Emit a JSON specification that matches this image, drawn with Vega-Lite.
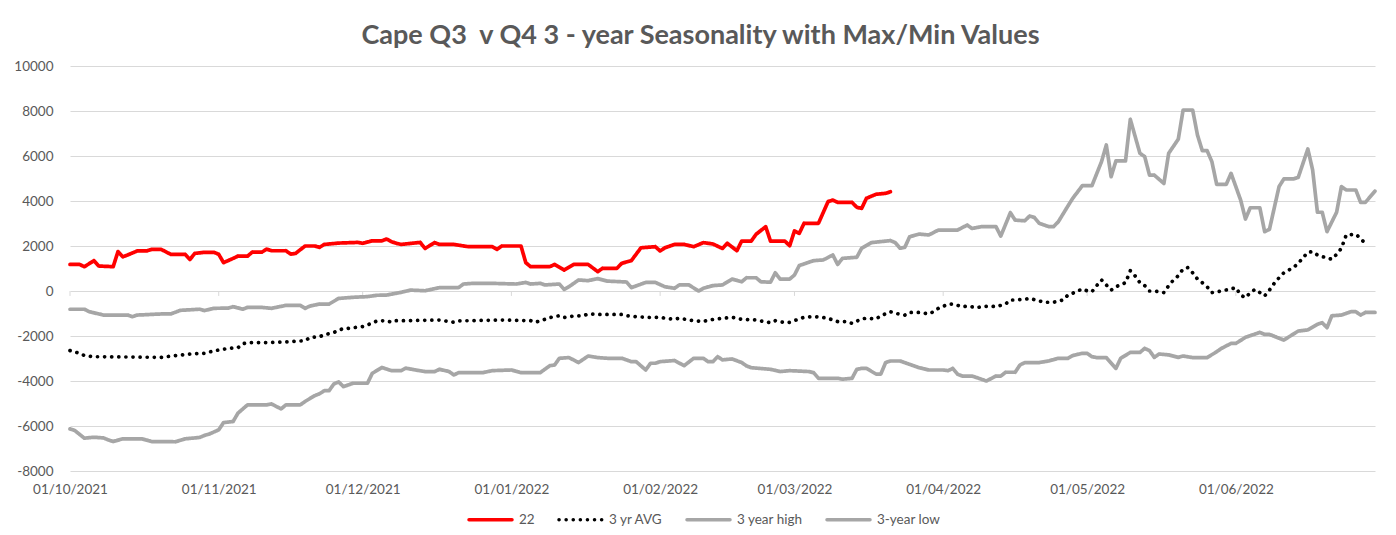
{
  "$schema": "https://vega.github.io/schema/vega-lite/v6.json",
  "width": 1305,
  "height": 405,
  "autosize": {"type": "none"},
  "padding": {"left": 70, "top": 66, "right": 21, "bottom": 64},
  "background": "white",
  "title": {"text": "Cape Q3\u00a0 v Q4 3 - year Seasonality with Max/Min Values", "font": "Lato", "fontSize": 27, "fontWeight": "bold", "color": "#595959", "anchor": "middle", "offset": 9, "dx": -22},
  "config": {"view": {"stroke": null}, "font": "Lato"},
  "datasets": {
    "months": [
      {"d": "2021-10-01"}, {"d": "2021-11-01"}, {"d": "2021-12-01"}, {"d": "2022-01-01"}, {"d": "2022-02-01"},
      {"d": "2022-03-01"}, {"d": "2022-04-01"}, {"d": "2022-05-01"}, {"d": "2022-06-01"}
    ],
    "series": [
      {"s":"22","d":"2021-10-01","v":1180},{"s":"22","d":"2021-10-03","v":1180},{"s":"22","d":"2021-10-04","v":1080},{"s":"22","d":"2021-10-06","v":1350},{"s":"22","d":"2021-10-07","v":1110},{"s":"22","d":"2021-10-10","v":1080},{"s":"22","d":"2021-10-11","v":1750},{"s":"22","d":"2021-10-12","v":1520},{"s":"22","d":"2021-10-13","v":1600},{"s":"22","d":"2021-10-15","v":1780},{"s":"22","d":"2021-10-17","v":1780},{"s":"22","d":"2021-10-18","v":1850},{"s":"22","d":"2021-10-20","v":1850},{"s":"22","d":"2021-10-22","v":1630},{"s":"22","d":"2021-10-25","v":1630},{"s":"22","d":"2021-10-26","v":1400},{"s":"22","d":"2021-10-27","v":1670},{"s":"22","d":"2021-10-29","v":1720},{"s":"22","d":"2021-10-31","v":1720},
      {"s":"22","d":"2021-11-01","v":1630},{"s":"22","d":"2021-11-02","v":1260},{"s":"22","d":"2021-11-04","v":1450},{"s":"22","d":"2021-11-05","v":1550},{"s":"22","d":"2021-11-07","v":1550},{"s":"22","d":"2021-11-08","v":1730},{"s":"22","d":"2021-11-10","v":1730},{"s":"22","d":"2021-11-11","v":1860},{"s":"22","d":"2021-11-12","v":1790},{"s":"22","d":"2021-11-15","v":1790},{"s":"22","d":"2021-11-16","v":1640},{"s":"22","d":"2021-11-17","v":1670},{"s":"22","d":"2021-11-19","v":2000},{"s":"22","d":"2021-11-21","v":2000},{"s":"22","d":"2021-11-22","v":1940},{"s":"22","d":"2021-11-23","v":2070},{"s":"22","d":"2021-11-26","v":2130},{"s":"22","d":"2021-11-30","v":2160},
      {"s":"22","d":"2021-12-01","v":2120},{"s":"22","d":"2021-12-03","v":2230},{"s":"22","d":"2021-12-05","v":2230},{"s":"22","d":"2021-12-06","v":2310},{"s":"22","d":"2021-12-07","v":2190},{"s":"22","d":"2021-12-08","v":2120},{"s":"22","d":"2021-12-09","v":2070},{"s":"22","d":"2021-12-13","v":2160},{"s":"22","d":"2021-12-14","v":1890},{"s":"22","d":"2021-12-16","v":2150},{"s":"22","d":"2021-12-17","v":2070},{"s":"22","d":"2021-12-20","v":2070},{"s":"22","d":"2021-12-23","v":1970},{"s":"22","d":"2021-12-28","v":1970},{"s":"22","d":"2021-12-29","v":1850},{"s":"22","d":"2021-12-30","v":2000},
      {"s":"22","d":"2022-01-03","v":2000},{"s":"22","d":"2022-01-04","v":1260},{"s":"22","d":"2022-01-05","v":1080},{"s":"22","d":"2022-01-09","v":1080},{"s":"22","d":"2022-01-10","v":1180},{"s":"22","d":"2022-01-12","v":930},{"s":"22","d":"2022-01-14","v":1180},{"s":"22","d":"2022-01-17","v":1180},{"s":"22","d":"2022-01-19","v":860},{"s":"22","d":"2022-01-20","v":1010},{"s":"22","d":"2022-01-23","v":1010},{"s":"22","d":"2022-01-24","v":1230},{"s":"22","d":"2022-01-26","v":1350},{"s":"22","d":"2022-01-28","v":1920},{"s":"22","d":"2022-01-31","v":1970},
      {"s":"22","d":"2022-02-01","v":1780},{"s":"22","d":"2022-02-02","v":1920},{"s":"22","d":"2022-02-04","v":2070},{"s":"22","d":"2022-02-06","v":2070},{"s":"22","d":"2022-02-08","v":1970},{"s":"22","d":"2022-02-10","v":2150},{"s":"22","d":"2022-02-12","v":2090},{"s":"22","d":"2022-02-14","v":1890},{"s":"22","d":"2022-02-15","v":2120},{"s":"22","d":"2022-02-17","v":1790},{"s":"22","d":"2022-02-18","v":2220},{"s":"22","d":"2022-02-20","v":2220},{"s":"22","d":"2022-02-21","v":2520},{"s":"22","d":"2022-02-23","v":2860},{"s":"22","d":"2022-02-24","v":2220},{"s":"22","d":"2022-02-27","v":2220},{"s":"22","d":"2022-02-28","v":2010},
      {"s":"22","d":"2022-03-01","v":2670},{"s":"22","d":"2022-03-02","v":2560},{"s":"22","d":"2022-03-03","v":3010},{"s":"22","d":"2022-03-06","v":3010},{"s":"22","d":"2022-03-08","v":3970},{"s":"22","d":"2022-03-09","v":4040},{"s":"22","d":"2022-03-10","v":3940},{"s":"22","d":"2022-03-13","v":3940},{"s":"22","d":"2022-03-14","v":3720},{"s":"22","d":"2022-03-15","v":3670},{"s":"22","d":"2022-03-16","v":4120},{"s":"22","d":"2022-03-18","v":4300},{"s":"22","d":"2022-03-20","v":4340},{"s":"22","d":"2022-03-21","v":4410},

      {"s":"3 yr AVG","d":"2021-10-01","v":-2650},{"s":"3 yr AVG","d":"2021-10-03","v":-2770},{"s":"3 yr AVG","d":"2021-10-04","v":-2870},{"s":"3 yr AVG","d":"2021-10-06","v":-2920},{"s":"3 yr AVG","d":"2021-10-20","v":-2950},{"s":"3 yr AVG","d":"2021-10-23","v":-2870},{"s":"3 yr AVG","d":"2021-10-26","v":-2800},{"s":"3 yr AVG","d":"2021-10-29","v":-2770},{"s":"3 yr AVG","d":"2021-10-31","v":-2660},
      {"s":"3 yr AVG","d":"2021-11-03","v":-2550},{"s":"3 yr AVG","d":"2021-11-05","v":-2520},{"s":"3 yr AVG","d":"2021-11-06","v":-2350},{"s":"3 yr AVG","d":"2021-11-07","v":-2290},{"s":"3 yr AVG","d":"2021-11-12","v":-2290},{"s":"3 yr AVG","d":"2021-11-16","v":-2250},{"s":"3 yr AVG","d":"2021-11-19","v":-2210},{"s":"3 yr AVG","d":"2021-11-20","v":-2070},{"s":"3 yr AVG","d":"2021-11-22","v":-2030},{"s":"3 yr AVG","d":"2021-11-23","v":-1950},{"s":"3 yr AVG","d":"2021-11-25","v":-1840},{"s":"3 yr AVG","d":"2021-11-27","v":-1660},{"s":"3 yr AVG","d":"2021-11-28","v":-1660},
      {"s":"3 yr AVG","d":"2021-12-01","v":-1580},{"s":"3 yr AVG","d":"2021-12-02","v":-1510},{"s":"3 yr AVG","d":"2021-12-04","v":-1330},{"s":"3 yr AVG","d":"2021-12-06","v":-1320},{"s":"3 yr AVG","d":"2021-12-07","v":-1390},{"s":"3 yr AVG","d":"2021-12-08","v":-1320},{"s":"3 yr AVG","d":"2021-12-10","v":-1320},{"s":"3 yr AVG","d":"2021-12-17","v":-1290},{"s":"3 yr AVG","d":"2021-12-20","v":-1390},{"s":"3 yr AVG","d":"2021-12-21","v":-1330},{"s":"3 yr AVG","d":"2021-12-30","v":-1290},
      {"s":"3 yr AVG","d":"2022-01-05","v":-1320},{"s":"3 yr AVG","d":"2022-01-06","v":-1390},{"s":"3 yr AVG","d":"2022-01-08","v":-1260},{"s":"3 yr AVG","d":"2022-01-09","v":-1180},{"s":"3 yr AVG","d":"2022-01-11","v":-1100},{"s":"3 yr AVG","d":"2022-01-12","v":-1180},{"s":"3 yr AVG","d":"2022-01-14","v":-1110},{"s":"3 yr AVG","d":"2022-01-16","v":-1100},{"s":"3 yr AVG","d":"2022-01-17","v":-1020},{"s":"3 yr AVG","d":"2022-01-19","v":-1040},{"s":"3 yr AVG","d":"2022-01-24","v":-1040},{"s":"3 yr AVG","d":"2022-01-25","v":-1100},{"s":"3 yr AVG","d":"2022-01-27","v":-1140},{"s":"3 yr AVG","d":"2022-01-30","v":-1180},
      {"s":"3 yr AVG","d":"2022-02-01","v":-1170},{"s":"3 yr AVG","d":"2022-02-02","v":-1210},{"s":"3 yr AVG","d":"2022-02-04","v":-1260},{"s":"3 yr AVG","d":"2022-02-05","v":-1210},{"s":"3 yr AVG","d":"2022-02-07","v":-1290},{"s":"3 yr AVG","d":"2022-02-10","v":-1360},{"s":"3 yr AVG","d":"2022-02-11","v":-1290},{"s":"3 yr AVG","d":"2022-02-13","v":-1240},{"s":"3 yr AVG","d":"2022-02-16","v":-1170},{"s":"3 yr AVG","d":"2022-02-18","v":-1260},{"s":"3 yr AVG","d":"2022-02-21","v":-1290},{"s":"3 yr AVG","d":"2022-02-24","v":-1410},{"s":"3 yr AVG","d":"2022-02-25","v":-1320},{"s":"3 yr AVG","d":"2022-02-27","v":-1410},{"s":"3 yr AVG","d":"2022-02-28","v":-1390},
      {"s":"3 yr AVG","d":"2022-03-02","v":-1240},{"s":"3 yr AVG","d":"2022-03-03","v":-1170},{"s":"3 yr AVG","d":"2022-03-05","v":-1140},{"s":"3 yr AVG","d":"2022-03-07","v":-1180},{"s":"3 yr AVG","d":"2022-03-08","v":-1210},{"s":"3 yr AVG","d":"2022-03-09","v":-1290},{"s":"3 yr AVG","d":"2022-03-10","v":-1360},{"s":"3 yr AVG","d":"2022-03-12","v":-1360},{"s":"3 yr AVG","d":"2022-03-13","v":-1440},{"s":"3 yr AVG","d":"2022-03-15","v":-1240},{"s":"3 yr AVG","d":"2022-03-16","v":-1210},{"s":"3 yr AVG","d":"2022-03-18","v":-1240},{"s":"3 yr AVG","d":"2022-03-19","v":-1100},{"s":"3 yr AVG","d":"2022-03-21","v":-920},{"s":"3 yr AVG","d":"2022-03-22","v":-990},{"s":"3 yr AVG","d":"2022-03-24","v":-1070},{"s":"3 yr AVG","d":"2022-03-25","v":-950},{"s":"3 yr AVG","d":"2022-03-27","v":-950},{"s":"3 yr AVG","d":"2022-03-29","v":-1020},{"s":"3 yr AVG","d":"2022-03-30","v":-920},{"s":"3 yr AVG","d":"2022-03-31","v":-770},
      {"s":"3 yr AVG","d":"2022-04-02","v":-590},{"s":"3 yr AVG","d":"2022-04-03","v":-580},{"s":"3 yr AVG","d":"2022-04-05","v":-700},{"s":"3 yr AVG","d":"2022-04-06","v":-670},{"s":"3 yr AVG","d":"2022-04-08","v":-740},{"s":"3 yr AVG","d":"2022-04-09","v":-700},{"s":"3 yr AVG","d":"2022-04-11","v":-670},{"s":"3 yr AVG","d":"2022-04-12","v":-700},{"s":"3 yr AVG","d":"2022-04-14","v":-580},{"s":"3 yr AVG","d":"2022-04-15","v":-400},{"s":"3 yr AVG","d":"2022-04-16","v":-400},{"s":"3 yr AVG","d":"2022-04-18","v":-370},{"s":"3 yr AVG","d":"2022-04-19","v":-330},{"s":"3 yr AVG","d":"2022-04-21","v":-440},{"s":"3 yr AVG","d":"2022-04-22","v":-500},{"s":"3 yr AVG","d":"2022-04-24","v":-500},{"s":"3 yr AVG","d":"2022-04-26","v":-400},{"s":"3 yr AVG","d":"2022-04-27","v":-180},{"s":"3 yr AVG","d":"2022-04-28","v":-100},{"s":"3 yr AVG","d":"2022-04-30","v":90},
      {"s":"3 yr AVG","d":"2022-05-01","v":10},{"s":"3 yr AVG","d":"2022-05-02","v":-30},{"s":"3 yr AVG","d":"2022-05-03","v":240},{"s":"3 yr AVG","d":"2022-05-04","v":490},{"s":"3 yr AVG","d":"2022-05-05","v":270},{"s":"3 yr AVG","d":"2022-05-06","v":40},{"s":"3 yr AVG","d":"2022-05-07","v":190},{"s":"3 yr AVG","d":"2022-05-09","v":370},{"s":"3 yr AVG","d":"2022-05-10","v":900},{"s":"3 yr AVG","d":"2022-05-11","v":670},{"s":"3 yr AVG","d":"2022-05-12","v":370},{"s":"3 yr AVG","d":"2022-05-13","v":240},{"s":"3 yr AVG","d":"2022-05-14","v":0},{"s":"3 yr AVG","d":"2022-05-15","v":0},{"s":"3 yr AVG","d":"2022-05-17","v":-70},{"s":"3 yr AVG","d":"2022-05-18","v":240},{"s":"3 yr AVG","d":"2022-05-19","v":490},{"s":"3 yr AVG","d":"2022-05-20","v":680},{"s":"3 yr AVG","d":"2022-05-21","v":980},{"s":"3 yr AVG","d":"2022-05-22","v":1040},{"s":"3 yr AVG","d":"2022-05-23","v":810},{"s":"3 yr AVG","d":"2022-05-24","v":530},{"s":"3 yr AVG","d":"2022-05-25","v":370},{"s":"3 yr AVG","d":"2022-05-26","v":190},{"s":"3 yr AVG","d":"2022-05-27","v":-70},{"s":"3 yr AVG","d":"2022-05-29","v":0},{"s":"3 yr AVG","d":"2022-05-31","v":90},
      {"s":"3 yr AVG","d":"2022-06-01","v":150},{"s":"3 yr AVG","d":"2022-06-02","v":-180},{"s":"3 yr AVG","d":"2022-06-03","v":-300},{"s":"3 yr AVG","d":"2022-06-04","v":-70},{"s":"3 yr AVG","d":"2022-06-05","v":70},{"s":"3 yr AVG","d":"2022-06-06","v":-70},{"s":"3 yr AVG","d":"2022-06-07","v":-220},{"s":"3 yr AVG","d":"2022-06-08","v":40},{"s":"3 yr AVG","d":"2022-06-09","v":340},{"s":"3 yr AVG","d":"2022-06-10","v":590},{"s":"3 yr AVG","d":"2022-06-11","v":810},{"s":"3 yr AVG","d":"2022-06-13","v":1040},{"s":"3 yr AVG","d":"2022-06-14","v":1230},{"s":"3 yr AVG","d":"2022-06-15","v":1480},{"s":"3 yr AVG","d":"2022-06-16","v":1720},{"s":"3 yr AVG","d":"2022-06-17","v":1750},{"s":"3 yr AVG","d":"2022-06-18","v":1600},{"s":"3 yr AVG","d":"2022-06-19","v":1530},{"s":"3 yr AVG","d":"2022-06-21","v":1410},{"s":"3 yr AVG","d":"2022-06-22","v":1630},{"s":"3 yr AVG","d":"2022-06-23","v":1900},{"s":"3 yr AVG","d":"2022-06-24","v":2490},{"s":"3 yr AVG","d":"2022-06-26","v":2520},{"s":"3 yr AVG","d":"2022-06-27","v":2340},{"s":"3 yr AVG","d":"2022-06-28","v":2090},

      {"s":"3 year high","d":"2021-10-01","v":-810},{"s":"3 year high","d":"2021-10-04","v":-810},{"s":"3 year high","d":"2021-10-05","v":-920},{"s":"3 year high","d":"2021-10-08","v":-1070},{"s":"3 year high","d":"2021-10-13","v":-1070},{"s":"3 year high","d":"2021-10-14","v":-1140},{"s":"3 year high","d":"2021-10-15","v":-1070},{"s":"3 year high","d":"2021-10-20","v":-1020},{"s":"3 year high","d":"2021-10-22","v":-1020},{"s":"3 year high","d":"2021-10-24","v":-860},{"s":"3 year high","d":"2021-10-28","v":-810},{"s":"3 year high","d":"2021-10-29","v":-870},{"s":"3 year high","d":"2021-10-31","v":-770},
      {"s":"3 year high","d":"2021-11-03","v":-760},{"s":"3 year high","d":"2021-11-04","v":-700},{"s":"3 year high","d":"2021-11-06","v":-810},{"s":"3 year high","d":"2021-11-07","v":-730},{"s":"3 year high","d":"2021-11-10","v":-730},{"s":"3 year high","d":"2021-11-12","v":-770},{"s":"3 year high","d":"2021-11-15","v":-640},{"s":"3 year high","d":"2021-11-18","v":-640},{"s":"3 year high","d":"2021-11-19","v":-770},{"s":"3 year high","d":"2021-11-20","v":-670},{"s":"3 year high","d":"2021-11-22","v":-580},{"s":"3 year high","d":"2021-11-24","v":-580},{"s":"3 year high","d":"2021-11-26","v":-330},{"s":"3 year high","d":"2021-11-29","v":-280},
      {"s":"3 year high","d":"2021-12-02","v":-250},{"s":"3 year high","d":"2021-12-04","v":-190},{"s":"3 year high","d":"2021-12-06","v":-180},{"s":"3 year high","d":"2021-12-09","v":-60},{"s":"3 year high","d":"2021-12-11","v":40},{"s":"3 year high","d":"2021-12-14","v":10},{"s":"3 year high","d":"2021-12-17","v":150},{"s":"3 year high","d":"2021-12-21","v":150},{"s":"3 year high","d":"2021-12-22","v":310},{"s":"3 year high","d":"2021-12-24","v":340},{"s":"3 year high","d":"2021-12-28","v":340},
      {"s":"3 year high","d":"2022-01-02","v":310},{"s":"3 year high","d":"2022-01-04","v":380},{"s":"3 year high","d":"2022-01-05","v":310},{"s":"3 year high","d":"2022-01-07","v":340},{"s":"3 year high","d":"2022-01-08","v":270},{"s":"3 year high","d":"2022-01-11","v":310},{"s":"3 year high","d":"2022-01-12","v":70},{"s":"3 year high","d":"2022-01-13","v":190},{"s":"3 year high","d":"2022-01-15","v":490},{"s":"3 year high","d":"2022-01-17","v":460},{"s":"3 year high","d":"2022-01-19","v":550},{"s":"3 year high","d":"2022-01-21","v":440},{"s":"3 year high","d":"2022-01-25","v":400},{"s":"3 year high","d":"2022-01-26","v":150},{"s":"3 year high","d":"2022-01-29","v":380},{"s":"3 year high","d":"2022-01-31","v":380},
      {"s":"3 year high","d":"2022-02-02","v":190},{"s":"3 year high","d":"2022-02-04","v":120},{"s":"3 year high","d":"2022-02-05","v":270},{"s":"3 year high","d":"2022-02-07","v":270},{"s":"3 year high","d":"2022-02-09","v":0},{"s":"3 year high","d":"2022-02-10","v":120},{"s":"3 year high","d":"2022-02-12","v":240},{"s":"3 year high","d":"2022-02-14","v":270},{"s":"3 year high","d":"2022-02-16","v":530},{"s":"3 year high","d":"2022-02-18","v":410},{"s":"3 year high","d":"2022-02-19","v":590},{"s":"3 year high","d":"2022-02-21","v":590},{"s":"3 year high","d":"2022-02-22","v":410},{"s":"3 year high","d":"2022-02-24","v":390},{"s":"3 year high","d":"2022-02-25","v":810},{"s":"3 year high","d":"2022-02-26","v":530},{"s":"3 year high","d":"2022-02-28","v":530},
      {"s":"3 year high","d":"2022-03-01","v":710},{"s":"3 year high","d":"2022-03-02","v":1130},{"s":"3 year high","d":"2022-03-05","v":1350},{"s":"3 year high","d":"2022-03-07","v":1380},{"s":"3 year high","d":"2022-03-09","v":1600},{"s":"3 year high","d":"2022-03-10","v":1180},{"s":"3 year high","d":"2022-03-11","v":1450},{"s":"3 year high","d":"2022-03-14","v":1500},{"s":"3 year high","d":"2022-03-15","v":1900},{"s":"3 year high","d":"2022-03-17","v":2150},{"s":"3 year high","d":"2022-03-21","v":2240},{"s":"3 year high","d":"2022-03-22","v":2150},{"s":"3 year high","d":"2022-03-23","v":1900},{"s":"3 year high","d":"2022-03-24","v":1940},{"s":"3 year high","d":"2022-03-25","v":2410},{"s":"3 year high","d":"2022-03-27","v":2530},{"s":"3 year high","d":"2022-03-29","v":2490},{"s":"3 year high","d":"2022-03-31","v":2710},
      {"s":"3 year high","d":"2022-04-04","v":2710},{"s":"3 year high","d":"2022-04-06","v":2930},{"s":"3 year high","d":"2022-04-07","v":2780},{"s":"3 year high","d":"2022-04-09","v":2860},{"s":"3 year high","d":"2022-04-12","v":2860},{"s":"3 year high","d":"2022-04-13","v":2440},{"s":"3 year high","d":"2022-04-15","v":3480},{"s":"3 year high","d":"2022-04-16","v":3150},{"s":"3 year high","d":"2022-04-18","v":3120},{"s":"3 year high","d":"2022-04-19","v":3330},{"s":"3 year high","d":"2022-04-20","v":3270},{"s":"3 year high","d":"2022-04-21","v":3010},{"s":"3 year high","d":"2022-04-23","v":2860},{"s":"3 year high","d":"2022-04-24","v":2860},{"s":"3 year high","d":"2022-04-25","v":3080},{"s":"3 year high","d":"2022-04-27","v":3780},{"s":"3 year high","d":"2022-04-28","v":4120},{"s":"3 year high","d":"2022-04-30","v":4680},
      {"s":"3 year high","d":"2022-05-02","v":4680},{"s":"3 year high","d":"2022-05-04","v":5750},{"s":"3 year high","d":"2022-05-05","v":6490},{"s":"3 year high","d":"2022-05-06","v":5080},{"s":"3 year high","d":"2022-05-07","v":5780},{"s":"3 year high","d":"2022-05-09","v":5780},{"s":"3 year high","d":"2022-05-10","v":7630},{"s":"3 year high","d":"2022-05-12","v":6120},{"s":"3 year high","d":"2022-05-13","v":5970},{"s":"3 year high","d":"2022-05-14","v":5150},{"s":"3 year high","d":"2022-05-15","v":5150},{"s":"3 year high","d":"2022-05-17","v":4780},{"s":"3 year high","d":"2022-05-18","v":6120},{"s":"3 year high","d":"2022-05-20","v":6750},{"s":"3 year high","d":"2022-05-21","v":8040},{"s":"3 year high","d":"2022-05-23","v":8040},{"s":"3 year high","d":"2022-05-24","v":6930},{"s":"3 year high","d":"2022-05-25","v":6240},{"s":"3 year high","d":"2022-05-26","v":6240},{"s":"3 year high","d":"2022-05-27","v":5750},{"s":"3 year high","d":"2022-05-28","v":4740},{"s":"3 year high","d":"2022-05-30","v":4740},{"s":"3 year high","d":"2022-05-31","v":5230},
      {"s":"3 year high","d":"2022-06-02","v":4040},{"s":"3 year high","d":"2022-06-03","v":3200},{"s":"3 year high","d":"2022-06-04","v":3700},{"s":"3 year high","d":"2022-06-06","v":3700},{"s":"3 year high","d":"2022-06-07","v":2640},{"s":"3 year high","d":"2022-06-08","v":2740},{"s":"3 year high","d":"2022-06-10","v":4640},{"s":"3 year high","d":"2022-06-11","v":4980},{"s":"3 year high","d":"2022-06-13","v":4980},{"s":"3 year high","d":"2022-06-14","v":5050},{"s":"3 year high","d":"2022-06-16","v":6310},{"s":"3 year high","d":"2022-06-17","v":5380},{"s":"3 year high","d":"2022-06-18","v":3500},{"s":"3 year high","d":"2022-06-19","v":3500},{"s":"3 year high","d":"2022-06-20","v":2640},{"s":"3 year high","d":"2022-06-22","v":3500},{"s":"3 year high","d":"2022-06-23","v":4640},{"s":"3 year high","d":"2022-06-24","v":4490},{"s":"3 year high","d":"2022-06-26","v":4490},{"s":"3 year high","d":"2022-06-27","v":3940},{"s":"3 year high","d":"2022-06-28","v":3940},{"s":"3 year high","d":"2022-06-30","v":4440},

      {"s":"3-year low","d":"2021-10-01","v":-6130},{"s":"3-year low","d":"2021-10-02","v":-6200},{"s":"3-year low","d":"2021-10-04","v":-6540},{"s":"3-year low","d":"2021-10-06","v":-6500},{"s":"3-year low","d":"2021-10-08","v":-6530},{"s":"3-year low","d":"2021-10-09","v":-6620},{"s":"3-year low","d":"2021-10-10","v":-6690},{"s":"3-year low","d":"2021-10-12","v":-6570},{"s":"3-year low","d":"2021-10-16","v":-6570},{"s":"3-year low","d":"2021-10-18","v":-6690},{"s":"3-year low","d":"2021-10-23","v":-6700},{"s":"3-year low","d":"2021-10-25","v":-6570},{"s":"3-year low","d":"2021-10-28","v":-6510},{"s":"3-year low","d":"2021-10-29","v":-6420},{"s":"3-year low","d":"2021-10-30","v":-6360},
      {"s":"3-year low","d":"2021-11-01","v":-6170},{"s":"3-year low","d":"2021-11-02","v":-5850},{"s":"3-year low","d":"2021-11-04","v":-5800},{"s":"3-year low","d":"2021-11-05","v":-5430},{"s":"3-year low","d":"2021-11-07","v":-5060},{"s":"3-year low","d":"2021-11-11","v":-5060},{"s":"3-year low","d":"2021-11-12","v":-5020},{"s":"3-year low","d":"2021-11-14","v":-5240},{"s":"3-year low","d":"2021-11-15","v":-5060},{"s":"3-year low","d":"2021-11-18","v":-5060},{"s":"3-year low","d":"2021-11-19","v":-4910},{"s":"3-year low","d":"2021-11-21","v":-4650},{"s":"3-year low","d":"2021-11-22","v":-4570},{"s":"3-year low","d":"2021-11-23","v":-4430},{"s":"3-year low","d":"2021-11-24","v":-4430},{"s":"3-year low","d":"2021-11-25","v":-4130},{"s":"3-year low","d":"2021-11-26","v":-4040},{"s":"3-year low","d":"2021-11-27","v":-4250},{"s":"3-year low","d":"2021-11-29","v":-4100},
      {"s":"3-year low","d":"2021-12-02","v":-4100},{"s":"3-year low","d":"2021-12-03","v":-3660},{"s":"3-year low","d":"2021-12-05","v":-3400},{"s":"3-year low","d":"2021-12-07","v":-3540},{"s":"3-year low","d":"2021-12-09","v":-3540},{"s":"3-year low","d":"2021-12-10","v":-3430},{"s":"3-year low","d":"2021-12-12","v":-3510},{"s":"3-year low","d":"2021-12-14","v":-3580},{"s":"3-year low","d":"2021-12-16","v":-3580},{"s":"3-year low","d":"2021-12-17","v":-3480},{"s":"3-year low","d":"2021-12-19","v":-3580},{"s":"3-year low","d":"2021-12-20","v":-3730},{"s":"3-year low","d":"2021-12-21","v":-3630},{"s":"3-year low","d":"2021-12-26","v":-3630},{"s":"3-year low","d":"2021-12-28","v":-3540},
      {"s":"3-year low","d":"2022-01-01","v":-3510},{"s":"3-year low","d":"2022-01-03","v":-3630},{"s":"3-year low","d":"2022-01-07","v":-3630},{"s":"3-year low","d":"2022-01-09","v":-3320},{"s":"3-year low","d":"2022-01-10","v":-3290},{"s":"3-year low","d":"2022-01-11","v":-2990},{"s":"3-year low","d":"2022-01-13","v":-2960},{"s":"3-year low","d":"2022-01-15","v":-3180},{"s":"3-year low","d":"2022-01-17","v":-2890},{"s":"3-year low","d":"2022-01-19","v":-2960},{"s":"3-year low","d":"2022-01-21","v":-2990},{"s":"3-year low","d":"2022-01-24","v":-2990},{"s":"3-year low","d":"2022-01-26","v":-3140},{"s":"3-year low","d":"2022-01-27","v":-3140},{"s":"3-year low","d":"2022-01-29","v":-3510},{"s":"3-year low","d":"2022-01-30","v":-3210},{"s":"3-year low","d":"2022-01-31","v":-3210},
      {"s":"3-year low","d":"2022-02-01","v":-3140},{"s":"3-year low","d":"2022-02-04","v":-3090},{"s":"3-year low","d":"2022-02-06","v":-3320},{"s":"3-year low","d":"2022-02-08","v":-2990},{"s":"3-year low","d":"2022-02-10","v":-2990},{"s":"3-year low","d":"2022-02-11","v":-3140},{"s":"3-year low","d":"2022-02-12","v":-3140},{"s":"3-year low","d":"2022-02-13","v":-2920},{"s":"3-year low","d":"2022-02-14","v":-3060},{"s":"3-year low","d":"2022-02-16","v":-3020},{"s":"3-year low","d":"2022-02-18","v":-3180},{"s":"3-year low","d":"2022-02-19","v":-3330},{"s":"3-year low","d":"2022-02-20","v":-3410},{"s":"3-year low","d":"2022-02-24","v":-3480},{"s":"3-year low","d":"2022-02-26","v":-3580},{"s":"3-year low","d":"2022-02-28","v":-3540},
      {"s":"3-year low","d":"2022-03-04","v":-3580},{"s":"3-year low","d":"2022-03-05","v":-3630},{"s":"3-year low","d":"2022-03-06","v":-3880},{"s":"3-year low","d":"2022-03-10","v":-3880},{"s":"3-year low","d":"2022-03-11","v":-3920},{"s":"3-year low","d":"2022-03-13","v":-3880},{"s":"3-year low","d":"2022-03-14","v":-3480},{"s":"3-year low","d":"2022-03-15","v":-3440},{"s":"3-year low","d":"2022-03-16","v":-3440},{"s":"3-year low","d":"2022-03-18","v":-3690},{"s":"3-year low","d":"2022-03-19","v":-3690},{"s":"3-year low","d":"2022-03-20","v":-3180},{"s":"3-year low","d":"2022-03-21","v":-3110},{"s":"3-year low","d":"2022-03-23","v":-3110},{"s":"3-year low","d":"2022-03-25","v":-3260},{"s":"3-year low","d":"2022-03-27","v":-3410},{"s":"3-year low","d":"2022-03-29","v":-3510},
      {"s":"3-year low","d":"2022-04-01","v":-3510},{"s":"3-year low","d":"2022-04-02","v":-3540},{"s":"3-year low","d":"2022-04-03","v":-3440},{"s":"3-year low","d":"2022-04-04","v":-3700},{"s":"3-year low","d":"2022-04-05","v":-3780},{"s":"3-year low","d":"2022-04-07","v":-3780},{"s":"3-year low","d":"2022-04-08","v":-3850},{"s":"3-year low","d":"2022-04-10","v":-4000},{"s":"3-year low","d":"2022-04-12","v":-3780},{"s":"3-year low","d":"2022-04-13","v":-3780},{"s":"3-year low","d":"2022-04-14","v":-3610},{"s":"3-year low","d":"2022-04-16","v":-3610},{"s":"3-year low","d":"2022-04-17","v":-3290},{"s":"3-year low","d":"2022-04-18","v":-3180},{"s":"3-year low","d":"2022-04-21","v":-3180},{"s":"3-year low","d":"2022-04-23","v":-3110},{"s":"3-year low","d":"2022-04-25","v":-2990},{"s":"3-year low","d":"2022-04-27","v":-2990},{"s":"3-year low","d":"2022-04-28","v":-2870},{"s":"3-year low","d":"2022-04-30","v":-2770},
      {"s":"3-year low","d":"2022-05-01","v":-2770},{"s":"3-year low","d":"2022-05-02","v":-2920},{"s":"3-year low","d":"2022-05-03","v":-2960},{"s":"3-year low","d":"2022-05-05","v":-2960},{"s":"3-year low","d":"2022-05-07","v":-3440},{"s":"3-year low","d":"2022-05-08","v":-2990},{"s":"3-year low","d":"2022-05-10","v":-2730},{"s":"3-year low","d":"2022-05-12","v":-2730},{"s":"3-year low","d":"2022-05-13","v":-2550},{"s":"3-year low","d":"2022-05-14","v":-2650},{"s":"3-year low","d":"2022-05-15","v":-2950},{"s":"3-year low","d":"2022-05-16","v":-2800},{"s":"3-year low","d":"2022-05-18","v":-2840},{"s":"3-year low","d":"2022-05-20","v":-2950},{"s":"3-year low","d":"2022-05-21","v":-2890},{"s":"3-year low","d":"2022-05-23","v":-2960},{"s":"3-year low","d":"2022-05-26","v":-2960},{"s":"3-year low","d":"2022-05-28","v":-2700},{"s":"3-year low","d":"2022-05-29","v":-2550},{"s":"3-year low","d":"2022-05-31","v":-2330},
      {"s":"3-year low","d":"2022-06-01","v":-2330},{"s":"3-year low","d":"2022-06-03","v":-2060},{"s":"3-year low","d":"2022-06-06","v":-1840},{"s":"3-year low","d":"2022-06-07","v":-1930},{"s":"3-year low","d":"2022-06-08","v":-1930},{"s":"3-year low","d":"2022-06-10","v":-2100},{"s":"3-year low","d":"2022-06-11","v":-2180},{"s":"3-year low","d":"2022-06-14","v":-1780},{"s":"3-year low","d":"2022-06-16","v":-1730},{"s":"3-year low","d":"2022-06-18","v":-1480},{"s":"3-year low","d":"2022-06-19","v":-1410},{"s":"3-year low","d":"2022-06-20","v":-1630},{"s":"3-year low","d":"2022-06-21","v":-1100},{"s":"3-year low","d":"2022-06-23","v":-1070},{"s":"3-year low","d":"2022-06-25","v":-920},{"s":"3-year low","d":"2022-06-26","v":-920},{"s":"3-year low","d":"2022-06-27","v":-1070},{"s":"3-year low","d":"2022-06-28","v":-950},{"s":"3-year low","d":"2022-06-30","v":-950}
    ]
  },
  "encoding": {
    "x": {
      "field": "d", "type": "temporal",
      "scale": {"type": "utc", "domain": [{"year": 2021, "month": 10, "date": 1, "utc": true}, {"year": 2022, "month": 6, "date": 30, "utc": true}]},
      "axis": {
        "title": null, "format": "%d/%m/%Y",
        "values": [
          {"year": 2021, "month": 10, "date": 1, "utc": true}, {"year": 2021, "month": 11, "date": 1, "utc": true},
          {"year": 2021, "month": 12, "date": 1, "utc": true}, {"year": 2022, "month": 1, "date": 1, "utc": true},
          {"year": 2022, "month": 2, "date": 1, "utc": true}, {"year": 2022, "month": 3, "date": 1, "utc": true},
          {"year": 2022, "month": 4, "date": 1, "utc": true}, {"year": 2022, "month": 5, "date": 1, "utc": true},
          {"year": 2022, "month": 6, "date": 1, "utc": true}
        ],
        "domain": false, "ticks": false, "grid": false,
        "labelFont": "Lato", "labelFontSize": 13.5, "labelColor": "#595959", "labelPadding": 11,
        "labelFlush": false, "labelOverlap": false
      }
    }
  },
  "layer": [
    {
      "data": {"name": "months"},
      "mark": {"type": "rule", "color": "#D9D9D9", "strokeWidth": 1},
      "encoding": {
        "y": {"datum": 0, "type": "quantitative"},
        "y2": {"datum": -220}
      }
    },
    {
      "data": {"name": "series"},
      "mark": {"type": "line", "strokeWidth": 3.7, "strokeCap": "round", "strokeJoin": "round"},
      "encoding": {
        "y": {
          "field": "v", "type": "quantitative",
          "scale": {"domain": [-8000, 10000], "nice": false, "zero": false},
          "axis": {
            "title": null, "values": [-8000, -6000, -4000, -2000, 0, 2000, 4000, 6000, 8000, 10000],
            "labelExpr": "toString(datum.value)",
            "domain": false, "ticks": false, "grid": true, "gridColor": "#D9D9D9", "gridWidth": 1,
            "labelFont": "Lato", "labelFontSize": 13.5, "labelColor": "#595959", "labelPadding": 17
          }
        },
        "color": {
          "field": "s", "type": "nominal",
          "scale": {"domain": ["22", "3 yr AVG", "3 year high", "3-year low"], "range": ["#FF0000", "#000000", "#A6A6A6", "#A6A6A6"]},
          "legend": {"title": null, "orient": "none", "legendX": 397, "legendY": 430, "direction": "horizontal", "symbolType": "stroke", "symbolSize": 1850, "symbolStrokeWidth": 3.5, "labelFont": "Lato", "labelFontSize": 13.5, "labelColor": "#595959", "columnPadding": 16, "labelOffset": 5,
            "encode": {"symbols": {"update": {"strokeCap": {"value": "round"}}}}}
        },
        "strokeDash": {
          "field": "s", "type": "nominal",
          "scale": {"domain": ["22", "3 yr AVG", "3 year high", "3-year low"], "range": [[1, 0], [0.1, 7], [1, 0], [1, 0]]},
          "legend": {"title": null, "orient": "none", "legendX": 397, "legendY": 430, "direction": "horizontal", "symbolType": "stroke", "symbolSize": 1850, "symbolStrokeWidth": 3.5, "labelFont": "Lato", "labelFontSize": 13.5, "labelColor": "#595959", "columnPadding": 16, "labelOffset": 5,
            "encode": {"symbols": {"update": {"strokeCap": {"value": "round"}}}}}
        }
      }
    }
  ]
}
